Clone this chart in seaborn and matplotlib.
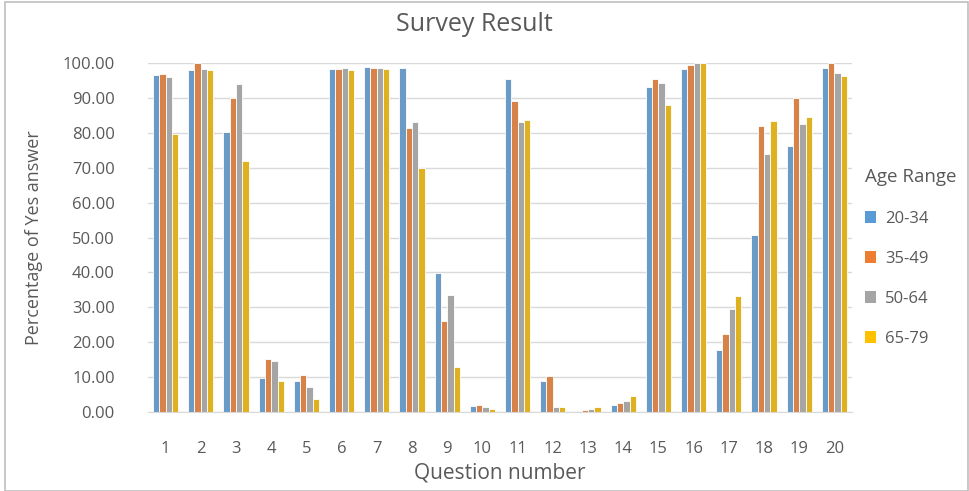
import pandas as pd
import seaborn as sns
import matplotlib.pyplot as plt
from matplotlib.patches import Rectangle, Patch
from matplotlib.ticker import FormatStrFormatter

# Survey data: percentage of "Yes" answers per question and age range
questions = [str(i) for i in range(1, 21)]
age_ranges = ["20-34", "35-49", "50-64", "65-79"]

age_20_34 = [96.6, 97.9, 80.3, 9.8, 9.0, 98.2, 98.9, 98.5, 39.9, 1.7,
             95.5, 9.0, 0.4, 2.0, 93.2, 98.2, 17.7, 50.8, 76.3, 98.5]
age_35_49 = [96.9, 99.9, 89.9, 15.3, 10.6, 98.2, 98.6, 81.3, 26.2, 2.0,
             89.2, 10.3, 0.7, 2.7, 95.5, 99.5, 22.3, 81.9, 89.9, 99.9]
age_50_64 = [95.9, 98.3, 94.0, 14.6, 7.1, 98.6, 98.5, 83.0, 33.6, 1.3,
             83.0, 1.3, 1.0, 3.1, 94.3, 99.9, 29.5, 74.0, 82.6, 97.1]
age_65_79 = [79.6, 97.9, 72.0, 9.0, 3.7, 97.9, 98.2, 70.0, 12.9, 0.8,
             83.6, 1.3, 1.3, 4.7, 88.0, 99.9, 33.2, 83.3, 84.6, 96.2]

colors = ["#5B9BD5", "#ED7D31", "#A5A5A5", "#FFC000"]
TEXT = "#595959"

df = pd.DataFrame({"20-34": age_20_34, "35-49": age_35_49,
                   "50-64": age_50_64, "65-79": age_65_79}, index=questions)
long_df = df.reset_index(names="Question").melt(
    id_vars="Question", var_name="Age Range", value_name="Percent")

sns.set_style("white")
plt.rcParams["font.family"] = ["Open Sans", "DejaVu Sans"]

fig = plt.figure(figsize=(9.69, 4.91), dpi=100)
ax = fig.add_axes([148 / 969, 1 - 412 / 491, 704 / 969, 349 / 491])

sns.barplot(data=long_df, x="Question", y="Percent", hue="Age Range",
            hue_order=age_ranges, palette=colors, width=0.72,
            edgecolor="white", linewidth=0.6, ax=ax, legend=False)

ax.set_ylim(0, 100)
ax.set_yticks(range(0, 101, 10))
ax.yaxis.set_major_formatter(FormatStrFormatter("%.2f"))
ax.grid(axis="y", color="#D9D9D9", linewidth=1)
ax.set_axisbelow(True)
for side in ["top", "right", "left"]:
    ax.spines[side].set_visible(False)
ax.spines["bottom"].set_color("#D9D9D9")
ax.tick_params(axis="y", length=0, pad=24, labelsize=12, labelcolor=TEXT)
ax.tick_params(axis="x", length=0, pad=21, labelsize=12, labelcolor=TEXT)

ax.set_xlabel("Question number", fontsize=15, color=TEXT, labelpad=4)
ax.set_ylabel("Percentage of Yes answer", fontsize=13, color=TEXT, labelpad=14)
fig.text(0.49, 0.95, "Survey Result", ha="center", va="center",
         fontsize=18, color=TEXT)

handles = [Patch(facecolor=c, edgecolor="none") for c in colors]
leg = fig.legend(handles, age_ranges, title="Age Range", loc="center left",
                 bbox_to_anchor=(0.877, 0.475), frameon=False, fontsize=12,
                 title_fontsize=13.5, handlelength=0.7, handleheight=0.7,
                 handletextpad=0.5, labelspacing=1.45, labelcolor=TEXT)
leg.get_title().set_color(TEXT)
leg._legend_box.align = "left"

# light chart-area border like the original
fig.patches.append(Rectangle((0.005, 0.0), 0.994, 0.996, transform=fig.transFigure,
                             fill=False, edgecolor="#BFBFBF", linewidth=1.2))

fig.savefig("out.png", dpi=100)
